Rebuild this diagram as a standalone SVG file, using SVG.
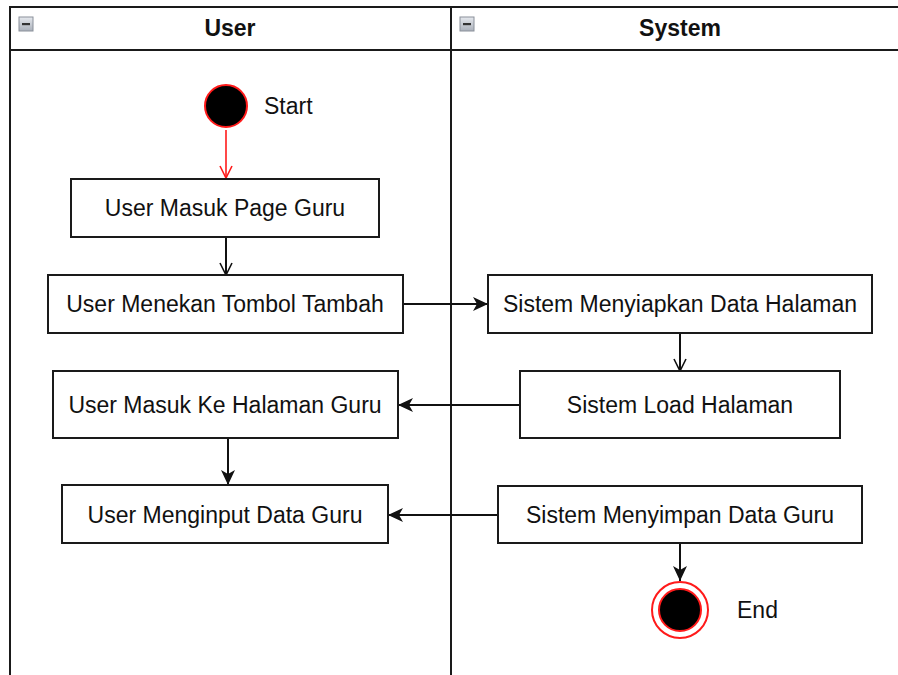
<svg xmlns="http://www.w3.org/2000/svg" width="898" height="675" viewBox="0 0 898 675">
  <style>
    .lane { fill: #ffffff; stroke: #1a1a1a; stroke-width: 2; }
    .box { fill: #ffffff; stroke: #1a1a1a; stroke-width: 2; }
    .lbl { font-family: "Liberation Sans", Arial, sans-serif; font-size: 23px; fill: #111111; text-anchor: middle; dominant-baseline: central; }
    .hdr { font-family: "Liberation Sans", Arial, sans-serif; font-size: 23px; font-weight: bold; fill: #111111; text-anchor: middle; dominant-baseline: central; }
    .side { font-family: "Liberation Sans", Arial, sans-serif; font-size: 23px; fill: #111111; dominant-baseline: central; }
    .edge { fill: none; stroke: #111111; stroke-width: 2; }
    .edge-red { fill: none; stroke: #ff1a1a; stroke-width: 1.6; }
  </style>
  <defs>
    <marker id="open" viewBox="0 0 14 14" refX="13" refY="7" markerWidth="14" markerHeight="14" markerUnits="userSpaceOnUse" orient="auto">
      <path d="M1,1 L13,7 L1,13" fill="none" stroke="#111111" stroke-width="1.6"/>
    </marker>
    <marker id="open-red" viewBox="0 0 14 14" refX="13" refY="7" markerWidth="14" markerHeight="14" markerUnits="userSpaceOnUse" orient="auto">
      <path d="M1,1 L13,7 L1,13" fill="none" stroke="#ff1a1a" stroke-width="1.6"/>
    </marker>
    <marker id="solid" viewBox="0 0 16 16" refX="15" refY="8" markerWidth="16" markerHeight="16" markerUnits="userSpaceOnUse" orient="auto">
      <path d="M0,1 L15,8 L0,15 L4,8 Z" fill="#111111"/>
    </marker>
    <linearGradient id="btn" x1="0" y1="0" x2="0" y2="1">
      <stop offset="0" stop-color="#e6e9ee"/>
      <stop offset="1" stop-color="#aab0ba"/>
    </linearGradient>
    <g id="collapse">
      <rect x="0" y="0" width="14" height="14" fill="url(#btn)" stroke="#8a909a" stroke-width="1"/>
      <rect x="3" y="6" width="8" height="2.2" fill="#333333"/>
    </g>
  </defs>

  <rect width="898" height="675" fill="#ffffff"/>

  <!-- swimlanes -->
  <g id="lane-user">
    <rect class="lane" x="10" y="7" width="441" height="680"/>
    <line x1="10" y1="50" x2="451" y2="50" stroke="#1a1a1a" stroke-width="2"/>
    <use href="#collapse" x="19" y="17"/>
    <text class="hdr" x="230" y="28">User</text>
  </g>
  <g id="lane-system">
    <rect class="lane" x="451" y="7" width="460" height="680"/>
    <line x1="451" y1="50" x2="911" y2="50" stroke="#1a1a1a" stroke-width="2"/>
    <use href="#collapse" x="460" y="17"/>
    <text class="hdr" x="680" y="28">System</text>
  </g>

  <!-- connectors -->
  <g id="connectors">
    <line class="edge-red" x1="226" y1="130" x2="226" y2="178" marker-end="url(#open-red)"/>
    <line class="edge" x1="226" y1="237" x2="226" y2="275" marker-end="url(#open)"/>
    <line class="edge" x1="403" y1="304" x2="488" y2="304" marker-end="url(#solid)"/>
    <line class="edge" x1="680" y1="333" x2="680" y2="371" marker-end="url(#open)"/>
    <line class="edge" x1="520" y1="405" x2="398" y2="405" marker-end="url(#solid)"/>
    <line class="edge" x1="228" y1="438" x2="228" y2="485" marker-end="url(#solid)"/>
    <line class="edge" x1="498" y1="515" x2="388" y2="515" marker-end="url(#solid)"/>
    <line class="edge" x1="680" y1="543" x2="680" y2="581" marker-end="url(#solid)"/>
  </g>

  <!-- nodes -->
  <g id="start">
    <circle cx="226" cy="106" r="21" fill="#000000" stroke="#ff1a1a" stroke-width="2"/>
    <text class="side" x="264" y="106">Start</text>
  </g>
  <g id="user-masuk-page">
    <rect class="box" x="71" y="179" width="308" height="58"/>
    <text class="lbl" x="225" y="208">User Masuk Page Guru</text>
  </g>
  <g id="user-tombol-tambah">
    <rect class="box" x="48" y="275" width="355" height="58"/>
    <text class="lbl" x="225" y="304">User Menekan Tombol Tambah</text>
  </g>
  <g id="sistem-menyiapkan">
    <rect class="box" x="488" y="275" width="384" height="58"/>
    <text class="lbl" x="680" y="304">Sistem Menyiapkan Data Halaman</text>
  </g>
  <g id="sistem-load">
    <rect class="box" x="520" y="371" width="320" height="67"/>
    <text class="lbl" x="680" y="405">Sistem Load Halaman</text>
  </g>
  <g id="user-masuk-halaman">
    <rect class="box" x="53" y="371" width="345" height="67"/>
    <text class="lbl" x="225" y="405">User Masuk Ke Halaman Guru</text>
  </g>
  <g id="user-input">
    <rect class="box" x="62" y="485" width="326" height="58"/>
    <text class="lbl" x="225" y="515">User Menginput Data Guru</text>
  </g>
  <g id="sistem-simpan">
    <rect class="box" x="498" y="486" width="364" height="57"/>
    <text class="lbl" x="680" y="515">Sistem Menyimpan Data Guru</text>
  </g>
  <g id="end">
    <circle cx="680" cy="610" r="28" fill="#ffffff" stroke="#ff1a1a" stroke-width="2"/>
    <circle cx="680" cy="610" r="21" fill="#000000" stroke="#ff1a1a" stroke-width="2"/>
    <text class="side" x="737" y="610">End</text>
  </g>
</svg>
